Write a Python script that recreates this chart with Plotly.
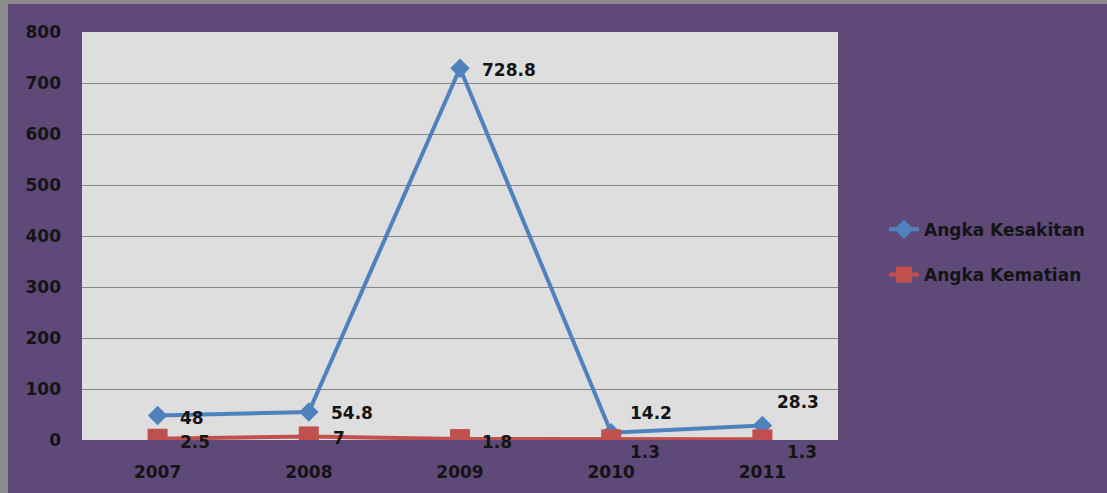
import plotly.graph_objects as go

# Yearly figures
years = ["2007", "2008", "2009", "2010", "2011"]
kesakitan = [48, 54.8, 728.8, 14.2, 28.3]
kematian = [2.5, 7, 1.8, 1.3, 1.3]
y_ticks = [0, 100, 200, 300, 400, 500, 600, 700, 800]

# label offsets in pixels (x to the left edge of the text, y upwards)
kesakitan_offsets = [(20, -2), (20, -1), (20, -2), (17, 20), (13, 24)]
kematian_offsets = [(20, -3), (22, -2), (20, -3), (17, -13), (23, -13)]

BLUE = "#4f81bd"
RED = "#c0504d"
PURPLE = "#5f4979"
TEXT = "#141414"
FONT = "DejaVu Sans"

fig = go.Figure()
fig.add_trace(go.Scatter(
    x=years, y=kesakitan, name="Angka Kesakitan", mode="lines+markers",
    line=dict(color=BLUE, width=4),
    marker=dict(symbol="diamond", size=15, color=BLUE),
    legendgroup="a",
))
fig.add_trace(go.Scatter(
    x=years, y=kematian, name="Angka Kematian", mode="lines+markers",
    line=dict(color=RED, width=4),
    marker=dict(symbol="square", size=20, color=RED),
    legendgroup="b",
))

for series, offs in ((kesakitan, kesakitan_offsets), (kematian, kematian_offsets)):
    for i, (v, (dx, dy)) in enumerate(zip(series, offs)):
        fig.add_annotation(
            x=i, y=v, xref="x", yref="y", text=f"{v:g}", showarrow=False,
            xanchor="left", yanchor="middle", xshift=dx, yshift=dy,
            font=dict(family=FONT, size=17, color=TEXT),
        )

# window frame: thin grey strips on top and left
L, T, W, H = 82, 32, 756, 408
shapes = [
    dict(type="rect", xref="paper", yref="paper",
         x0=-L / W, x1=(8 - L) / W, y0=-1, y1=2,
         fillcolor="#8b8b8b", line=dict(width=0)),
    dict(type="rect", xref="paper", yref="paper",
         x0=-1, x1=2, y0=(H + T - 4) / H, y1=(H + T + 2) / H,
         fillcolor="#8b8b8b", line=dict(width=0)),
]

fig.update_layout(
    width=1107, height=493,
    margin=dict(l=L, r=1107 - L - W, t=T, b=493 - T - H),
    paper_bgcolor=PURPLE,
    plot_bgcolor="#dedede",
    font=dict(family=FONT, size=17, color=TEXT, weight="bold"),
    xaxis=dict(
        type="category", range=[-0.5, 4.5], showgrid=False, zeroline=False,
        showline=False, ticks="", ticklabelstandoff=20,
        tickfont=dict(family=FONT, size=17, color=TEXT, weight="bold"),
    ),
    yaxis=dict(
        range=[0, 800], tickvals=y_ticks, showgrid=True, gridcolor="#868686",
        gridwidth=1, zeroline=False, showline=False, ticks="",
        ticklabelstandoff=20,
        tickfont=dict(family=FONT, size=17, color=TEXT, weight="bold"),
    ),
    legend=dict(
        x=(884 - L) / W, xanchor="left", y=0.46, yanchor="middle",
        bgcolor="rgba(0,0,0,0)", tracegroupgap=20, traceorder="grouped",
        font=dict(family=FONT, size=17, color=TEXT, weight="bold"),
    ),
    shapes=shapes,
    showlegend=True,
)

fig.write_html("out.html")
